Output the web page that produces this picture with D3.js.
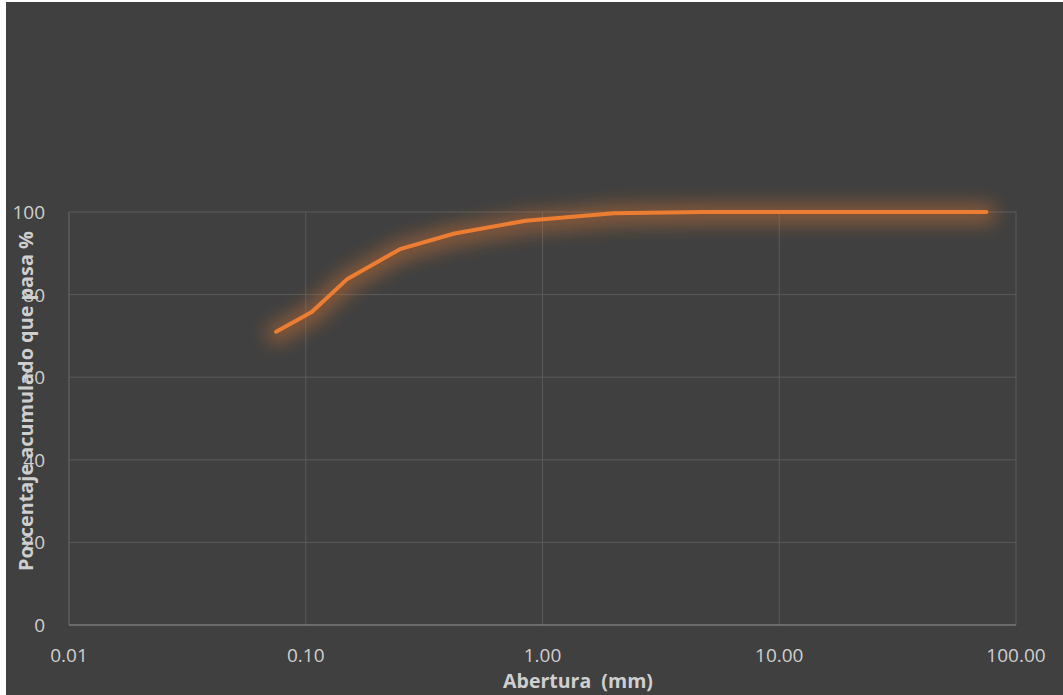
<!DOCTYPE html>
<html>
<head>
<meta charset="utf-8">
<script src="https://cdn.jsdelivr.net/npm/d3@7"></script>
<style>
  html, body { margin: 0; padding: 0; background: #ffffff; }
  #chart { position: absolute; left: 6px; top: 2px; }
</style>
</head>
<body>
<div id="chart"></div>
<script>
// Curva granulométrica: abertura (mm) vs % que pasa
const aberturas = [0.075, 0.106, 0.15, 0.25, 0.425, 0.85, 2.0, 4.75, 9.5, 19, 25, 37.5, 50, 75];
const pasa = [71.0, 75.8, 83.8, 91.0, 94.8, 97.9, 99.7, 100, 100, 100, 100, 100, 100, 100];
const xTicks = [0.01, 0.1, 1, 10, 100];
const yTicks = [0, 20, 40, 60, 80, 100];

const width = 1057, height = 693;
const margin = { top: 210, right: 47, bottom: 70, left: 63 };

const svg = d3.select('#chart').append('svg')
    .attr('width', width)
    .attr('height', height);

svg.append('rect')
    .attr('width', width).attr('height', height)
    .attr('fill', '#404040');

// glow around the line
const defs = svg.append('defs');
const glow = defs.append('filter').attr('id', 'glow')
    .attr('filterUnits', 'userSpaceOnUse')
    .attr('x', 0).attr('y', 0).attr('width', width).attr('height', height);
glow.append('feGaussianBlur').attr('in', 'SourceGraphic').attr('stdDeviation', 9);

const x = d3.scaleLog()
    .domain([0.01, 100])
    .range([margin.left, width - margin.right]);

const y = d3.scaleLinear()
    .domain([0, 100])
    .range([height - margin.bottom, margin.top]);

// gridlines
svg.append('g').selectAll('line')
    .data(yTicks.filter(d => d > 0))
    .enter().append('line')
    .attr('x1', x(0.01)).attr('x2', x(100))
    .attr('y1', d => y(d)).attr('y2', d => y(d))
    .attr('stroke', '#5a5a5a').attr('stroke-width', 1);

svg.append('g').selectAll('line')
    .data(xTicks.filter(d => d > 0.01))
    .enter().append('line')
    .attr('x1', d => x(d)).attr('x2', d => x(d))
    .attr('y1', y(0)).attr('y2', y(100))
    .attr('stroke', '#5a5a5a').attr('stroke-width', 1);

// axes lines
svg.append('line')
    .attr('x1', x(0.01)).attr('x2', x(100))
    .attr('y1', y(0)).attr('y2', y(0))
    .attr('stroke', '#7a7a7a').attr('stroke-width', 1.5);
svg.append('line')
    .attr('x1', x(0.01)).attr('x2', x(0.01))
    .attr('y1', y(0)).attr('y2', y(100))
    .attr('stroke', '#6a6a6a').attr('stroke-width', 1);

const font = '"Open Sans", "Noto Sans", sans-serif';
const textColor = '#cfcfcf';

// shrink/grow a text's font so it spans the given length
function fitText(sel, target) {
    const node = sel.node();
    const size = parseFloat(sel.style('font-size'));
    const len = node.getComputedTextLength();
    sel.style('font-size', (size * target / len).toFixed(2) + 'px');
}

// tick labels
svg.append('g').selectAll('text')
    .data(yTicks)
    .enter().append('text')
    .attr('x', margin.left - 24)
    .attr('y', d => y(d) + 7)
    .attr('text-anchor', 'end')
    .attr('fill', textColor)
    .style('font-family', font)
    .style('font-size', '19px')
    .text(d => d);

svg.append('g').selectAll('text')
    .data(xTicks)
    .enter().append('text')
    .attr('x', d => x(d))
    .attr('y', y(0) + 37)
    .attr('text-anchor', 'middle')
    .attr('fill', textColor)
    .style('font-family', font)
    .style('font-size', '19px')
    .text(d => d.toFixed(2));

// axis titles
const xTitle = svg.append('text')
    .attr('x', 572)
    .attr('y', height - 7)
    .attr('text-anchor', 'middle')
    .attr('fill', textColor)
    .style('font-family', font)
    .style('font-size', '18px')
    .style('font-weight', 'bold')
    .style('white-space', 'pre')
    .text('Abertura  (mm)');
fitText(xTitle, 150);

const yTitle = svg.append('text')
    .attr('transform', `translate(27, 399) rotate(-90)`)
    .attr('text-anchor', 'middle')
    .attr('fill', textColor)
    .style('font-family', font)
    .style('font-size', '19px')
    .style('font-weight', 'bold')
    .text('Porcentaje acumulado que pasa %');
fitText(yTitle, 340);

// line
const line = d3.line()
    .x((d, i) => x(aberturas[i]))
    .y(d => y(d));

svg.append('path')
    .datum(pasa)
    .attr('d', line)
    .attr('transform', 'translate(0,2)')
    .attr('fill', 'none')
    .attr('stroke', '#ED7D31')
    .attr('stroke-width', 20)
    .attr('stroke-opacity', 0.42)
    .attr('stroke-linejoin', 'round')
    .attr('stroke-linecap', 'round')
    .attr('filter', 'url(#glow)');

svg.append('path')
    .datum(pasa)
    .attr('d', line)
    .attr('fill', 'none')
    .attr('stroke', '#ED7D31')
    .attr('stroke-width', 4)
    .attr('stroke-linejoin', 'round')
    .attr('stroke-linecap', 'round');
</script>
</body>
</html>
